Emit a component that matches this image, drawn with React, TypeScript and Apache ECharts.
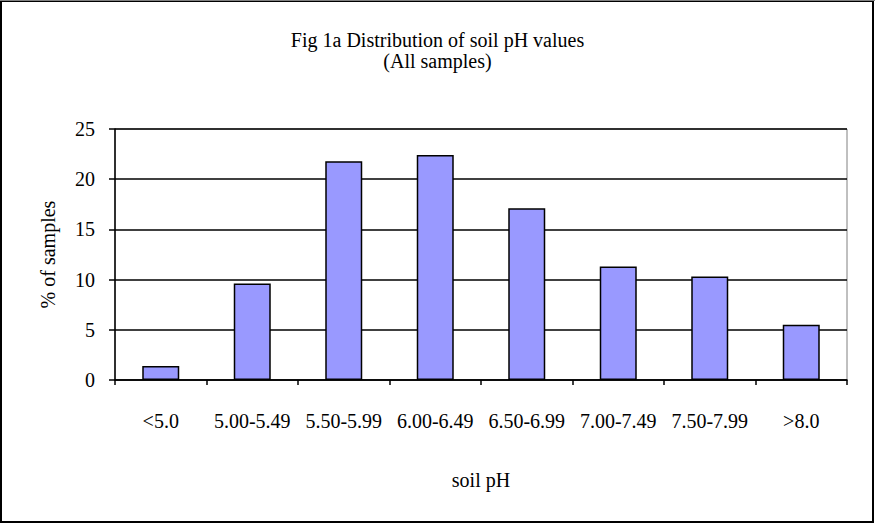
import React, { useEffect, useRef } from "react";
import * as echarts from "echarts";

const categories = ["<5.0", "5.00-5.49", "5.50-5.99", "6.00-6.49", "6.50-6.99", "7.00-7.49", "7.50-7.99", ">8.0"];
const percentSamples = [1.4, 9.6, 21.8, 22.4, 17.1, 11.3, 10.3, 5.5];
const titleLines = ["Fig 1a Distribution of soil pH values", "(All samples)"];
const xAxisName = "soil pH";
const yAxisName = "% of samples";

const FONT = "'Liberation Serif', 'Times New Roman', serif";

export default function App() {
  const ref = useRef<HTMLDivElement>(null);
  useEffect(() => {
    if (!ref.current) return;
    const chart = echarts.init(ref.current, undefined, { renderer: "svg" });
    chart.setOption({
      animation: false,
      backgroundColor: "#ffffff",
      textStyle: { fontFamily: FONT, color: "#000" },
      title: {
        text: titleLines.join("\n"),
        left: "center",
        top: 29,
        padding: 0,
        textStyle: { fontFamily: FONT, fontSize: 20, fontWeight: "normal", color: "#000", lineHeight: 21 },
      },
      graphic: [
        {
          type: "rect",
          shape: { x: 1, y: 1, width: 872, height: 521 },
          style: { fill: "none", stroke: "#000", lineWidth: 2 },
          silent: true,
        },
        {
          type: "line",
          shape: { x1: 0, y1: 0.5, x2: 875, y2: 0.5 },
          style: { stroke: "#808080", lineWidth: 1 },
          silent: true,
        },
      ],
      grid: {
        left: 115,
        right: 28,
        top: 129,
        bottom: 144,
        show: true,
        borderColor: "#808080",
        borderWidth: 1,
        backgroundColor: "transparent",
      },
      xAxis: {
        type: "category",
        data: categories,
        boundaryGap: true,
        name: xAxisName,
        nameLocation: "middle",
        nameGap: 90,
        nameTextStyle: { fontFamily: FONT, fontSize: 20, color: "#000" },
        axisLine: { show: true, lineStyle: { color: "#000", width: 1.5 } },
        axisTick: { show: true, alignWithLabel: false, length: 5, lineStyle: { color: "#000", width: 1.5 } },
        axisLabel: { interval: 0, margin: 31, fontFamily: FONT, fontSize: 20, color: "#000" },
        splitLine: { show: false },
      },
      yAxis: {
        type: "value",
        min: 0,
        max: 25,
        interval: 5,
        name: yAxisName,
        nameLocation: "middle",
        nameGap: 57,
        nameTextStyle: { fontFamily: FONT, fontSize: 20, color: "#000" },
        axisLine: { show: true, lineStyle: { color: "#000", width: 1.5 } },
        axisTick: { show: true, length: 6, lineStyle: { color: "#000", width: 1.5 } },
        axisLabel: { margin: 20, fontFamily: FONT, fontSize: 20, color: "#000" },
        splitLine: { show: true, lineStyle: { color: "#000", width: 1.5 } },
      },
      series: [
        {
          type: "bar",
          data: percentSamples,
          barWidth: 37,
          itemStyle: { color: "#9999FF", borderColor: "#000", borderWidth: 1.5 },
          emphasis: { disabled: true },
        },
      ],
    });
    return () => chart.dispose();
  }, []);
  return (
    <div
      ref={ref}
      style={{ position: "fixed", left: 0, top: 0, width: 875, height: 524 }}
    />
  );
}
